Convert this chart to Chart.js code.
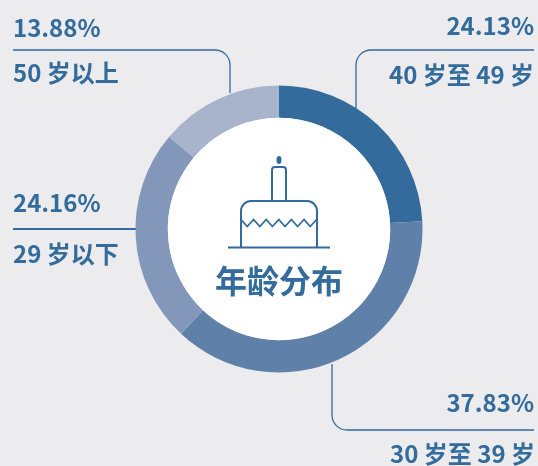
<!DOCTYPE html>
<html>
<head>
<meta charset="utf-8">
<title>年龄分布</title>
<script src="https://cdn.jsdelivr.net/npm/chart.js@4"></script>
<style>
  html, body { margin: 0; padding: 0; background: #ecebee; }
  #wrap { width: 538px; height: 466px; overflow: hidden; }
</style>
</head>
<body>
<div id="wrap"><canvas id="chart" width="538" height="466"></canvas></div>
<script>
const categories = ['40 岁至 49 岁', '30 岁至 39 岁', '29 岁以下', '50 岁以上'];
const shares = [24.13, 37.83, 24.16, 13.88];
const shareLabels = ['24.13%', '37.83%', '24.16%', '13.88%'];
const colors = ['#326b9c', '#5f80a9', '#8297ba', '#a7b4cc'];
const centerTitle = '年龄分布';

const BLUE = '#326b9c';
const FONT = '"Noto Sans CJK SC", "Noto Sans", sans-serif';

function drawLeaders(ctx) {
  ctx.strokeStyle = BLUE;
  ctx.lineWidth = 1.3;
  ctx.beginPath();
  // 50+
  ctx.moveTo(13, 50);
  ctx.lineTo(215, 50);
  ctx.arcTo(230, 50, 230, 65, 15);
  ctx.lineTo(230, 93);
  // 40-49
  ctx.moveTo(534, 50);
  ctx.lineTo(371, 50);
  ctx.arcTo(356, 50, 356, 65, 15);
  ctx.lineTo(356, 108);
  // 30-39
  ctx.moveTo(332, 364);
  ctx.lineTo(332, 415);
  ctx.arcTo(332, 430, 347, 430, 15);
  ctx.lineTo(534, 430);
  ctx.stroke();
  // 29 and under, a bit heavier in the original
  ctx.lineWidth = 1.8;
  ctx.beginPath();
  ctx.moveTo(13, 229);
  ctx.lineTo(137, 229);
  ctx.stroke();
}

function drawLabels(ctx) {
  ctx.fillStyle = BLUE;
  ctx.font = '700 24px ' + FONT;
  ctx.textBaseline = 'alphabetic';
  ctx.textAlign = 'right';
  ctx.fillText(shareLabels[0], 534, 35);
  ctx.fillText(categories[0], 534, 84);
  ctx.fillText(shareLabels[1], 534, 412);
  ctx.fillText(categories[1], 535, 463);
  ctx.textAlign = 'left';
  ctx.fillText(shareLabels[2], 13, 212);
  ctx.fillText(categories[2], 13, 263);
  ctx.fillText(shareLabels[3], 13, 37);
  ctx.fillText(categories[3], 13, 82);
}

function drawCake(ctx) {
  ctx.strokeStyle = BLUE;
  ctx.fillStyle = BLUE;
  ctx.lineWidth = 2;
  // plate
  ctx.beginPath();
  ctx.moveTo(228, 247.5);
  ctx.lineTo(330, 247.5);
  ctx.stroke();
  // body
  ctx.beginPath();
  ctx.moveTo(241, 247);
  ctx.lineTo(241, 211);
  ctx.arcTo(241, 201, 251, 201, 10);
  ctx.lineTo(307, 201);
  ctx.arcTo(317, 201, 317, 211, 10);
  ctx.lineTo(317, 247);
  ctx.stroke();
  // candle
  ctx.beginPath();
  ctx.moveTo(272, 200);
  ctx.lineTo(272, 170);
  ctx.arcTo(272, 167, 275, 167, 3);
  ctx.lineTo(283, 167);
  ctx.arcTo(286, 167, 286, 170, 3);
  ctx.lineTo(286, 200);
  ctx.stroke();
  // flame
  ctx.beginPath();
  ctx.ellipse(279, 160, 2.5, 4, 0, 0, Math.PI * 2);
  ctx.fill();
  // icing zigzag
  ctx.lineWidth = 1.8;
  ctx.beginPath();
  ctx.moveTo(241, 219.5);
  for (let i = 0; i < 6; i++) {
    ctx.lineTo(241 + 6.2 + i * 12.6, 226.5);
    ctx.lineTo(241 + 12.6 + i * 12.6, 219.5);
  }
  ctx.stroke();
}

const decorations = {
  id: 'decorations',
  beforeDatasetsDraw(chart) {
    const { ctx } = chart;
    ctx.save();
    drawLeaders(ctx);
    ctx.restore();
  },
  afterDatasetsDraw(chart) {
    const { ctx } = chart;
    const arc = chart.getDatasetMeta(0).data[0];
    ctx.save();
    ctx.fillStyle = '#ffffff';
    ctx.beginPath();
    ctx.arc(arc.x, arc.y, arc.innerRadius, 0, Math.PI * 2);
    ctx.fill();
    drawLabels(ctx);
    drawCake(ctx);
    ctx.fillStyle = BLUE;
    ctx.font = '700 32px ' + FONT;
    ctx.textAlign = 'center';
    ctx.textBaseline = 'alphabetic';
    ctx.fillText(centerTitle, 279, 293);
    ctx.restore();
  }
};

const chart = new Chart(document.getElementById('chart'), {
  type: 'doughnut',
  data: {
    labels: categories,
    datasets: [{
      data: shares,
      backgroundColor: colors,
      borderWidth: 0
    }]
  },
  options: {
    responsive: false,
    animation: false,
    cutout: '77.5%',
    layout: { padding: { left: 135.5, right: 115.5, top: 85.5, bottom: 93.5 } },
    plugins: {
      legend: { display: false },
      tooltip: { enabled: false }
    }
  },
  plugins: [decorations]
});
</script>
</body>
</html>
